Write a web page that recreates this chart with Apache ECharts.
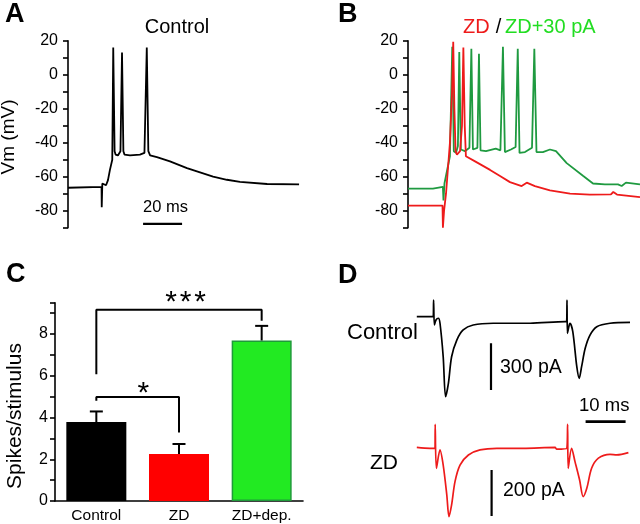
<!DOCTYPE html>
<html><head><meta charset="utf-8">
<script src="https://cdn.jsdelivr.net/npm/echarts@6/dist/echarts.min.js"></script>
<style>html,body{margin:0;padding:0;background:#fff}#c{width:640px;height:524px}</style>
</head><body><div id="c"></div>
<script>
// ---- Panel A: Control membrane potential (time ms, Vm mV)
const traceA_t = [0, 17.2, 17.3, 17.6, 18.5, 19.5, 20.5, 21.5, 22.7, 23.2, 23.9, 24.4, 25.6, 26.9, 27.7, 28.4, 29.0, 31.8, 36.9, 39.2, 40.4, 41.2, 42.1, 45.6, 52.3, 61.0, 67.7, 74.4, 81.5, 88.2, 102.1, 118.5];
const traceA_v = [-66.5, -66, -78, -64, -64.5, -65, -62, -56, -50, 16, -45, -47, -47.5, -45, 13, -45, -47, -47.5, -47, -46, 16, -45, -47.5, -48.5, -51, -55, -57.5, -60, -61.8, -63, -64.3, -64.5];
// ---- Panel B: ZD (red) and ZD+30 pA (green)
const traceBred_t = [0, 17.7, 17.9, 18.5, 19.5, 21.5, 22.6, 23.2, 23.8, 24.4, 25.1, 26.7, 27.7, 28.4, 29.1, 29.7, 34.4, 42.1, 47.2, 52.3, 58.3, 60.9, 65.1, 72.8, 83.1, 93.3, 104.1, 105.3, 107.2, 119];
const traceBred_v = [-77, -77, -90, -80, -70, -40, -10, 19.4, -20, -45, -47, -45, -30, 16, -30, -48, -51, -56, -59.6, -63.2, -65.5, -63.5, -65.5, -68, -70, -70.5, -70.4, -69, -70.5, -72];
const traceBgreen_t = [0, 12.8, 13.3, 17.9, 18.2, 18.7, 19.5, 21.5, 22.7, 23.5, 24.6, 25.6, 26.3, 27.1, 29.2, 31.5, 32.5, 33.3, 35.6, 36.4, 37.2, 40, 45, 47.4, 48.7, 49.7, 52.8, 55.2, 56.3, 57.2, 60, 63.6, 64.8, 65.9, 69.2, 72.8, 75.9, 81.4, 89.9, 94.9, 101, 107.7, 109.6, 111.8, 119];
const traceBgreen_v = [-67, -67, -66, -66, -74, -64, -64, -48, 16.5, -45, -46, -42, 13.3, -44, -45, -43, 15.3, -44, -43, 12.3, -44.5, -45, -43.5, -44.5, 16.5, -45.5, -44, -42.5, 15.3, -46, -45.5, -43, 15.3, -45.5, -45.5, -44, -45, -52, -59.6, -64, -64.5, -64.5, -65.5, -63.5, -64.5];
const vmTicks = [-80, -60, -40, -20, 0, 20];
// ---- Panel C: spikes per stimulus
const categoriesC = ['Control', 'ZD', 'ZD+dep.'];
const meansC = [3.78, 2.25, 7.69];
const errorsC = [0.51, 0.48, 0.70];
const bracketAll = [['Control', 6.07], ['Control', 9.16], ['ZD+dep.', 9.16], ['ZD+dep.', 8.63]];
const bracketZD = [['Control', 4.8], ['Control', 4.98], ['ZD', 4.98], ['ZD', 3.28]];
// ---- Panel D: synaptic currents (time ms, current pA)
const traceDctl_t = [0.2, 3.9, 4.3, 4.4, 4.6, 5.0, 5.6, 6.0, 6.8, 7.4, 8.1, 8.9, 10.2, 11.8, 14.3, 19.3, 25.2, 28.5, 37.3, 37.65, 37.75, 37.85, 38.3, 38.5, 39.2, 40.2, 40.8, 41.4, 42.3, 43.5, 45.2, 48.5, 53.5];
const traceDctl_v = [0, 0, 0, 107, -53, -21, -10, -42, -257, -514, -428, -257, -150, -85, -53, -42, -42, -42, -32, -32, 107, -107, -53, -42, -96, -321, -396, -321, -203, -118, -64, -42, -36];
const traceDzd_t = [0.2, 3.5, 4.75, 4.8, 5.1, 6.0, 6.8, 7.7, 8.25, 8.9, 9.75, 11.0, 13.1, 16.0, 20.2, 26.8, 34.75, 35.2, 37.7, 37.9, 38.05, 38.9, 39.75, 40.9, 41.8, 42.7, 43.9, 45.6, 48.5, 50.2, 53.1];
const traceDzd_v = [4, 0, 0, 104, -87, -7, -73, -203, -297, -246, -145, -73, -29, -7, 0, 0, 4, -4, 0, 104, -87, 0, -58, -138, -210, -174, -87, -43, -26, -29, -19];
// scale bars (data units)
const barA_ms = [[38.5, -87.8], [58.5, -87.8]];
const barD_pA1 = [[18.75, -171], [18.75, -471]];
const barD_ms = [[42.4, -674], [52.4, -674]];
const barD_pA2 = [[18.9, -94], [18.9, -294]];

const zip = (t, v) => t.map((x, i) => [x, v[i]]);
const FF = '"Liberation Sans", Arial, sans-serif';
const RED = '#ee1b1b', GREEN = '#1f9a40';

const chart = echarts.init(document.getElementById('c'), null, {renderer: 'canvas'});

function vmAxis(gi) {
  return {
    type: 'value', gridIndex: gi, min: -90, max: 20, interval: 10,
    axisLine: {show: true, lineStyle: {color: '#000', width: 1.6}},
    axisTick: {show: true, inside: false, length: 5, lineStyle: {color: '#000', width: 1.6}},
    axisLabel: {margin: 10, fontSize: 16, fontFamily: FF, color: '#000',
      formatter: v => (vmTicks.indexOf(v) >= 0 ? String(v) : '')},
    splitLine: {show: false}
  };
}
function hiddenX(gi, max) {
  return {type: 'value', gridIndex: gi, min: 0, max: max, show: false};
}
function hiddenY(gi, min, max) {
  return {type: 'value', gridIndex: gi, min: min, max: max, show: false};
}
function lineS(xi, data, color, w, smooth) {
  return {type: 'line', xAxisIndex: xi, yAxisIndex: xi, data: data, showSymbol: false, symbol: 'none',
    clip: false, silent: true, animation: false, smooth: smooth || false,
    lineStyle: {color: color, width: w || 1.8}, z: 5};
}

function txt(text, x, y, size, opts) {
  opts = opts || {};
  return {type: 'text', x: x, y: y, rotation: opts.rot || 0, silent: true, z: 10,
    style: {text: text, fill: opts.color || '#000', font: (opts.bold ? 'bold ' : '') + size + 'px ' + FF,
      align: opts.align || 'left', verticalAlign: 'middle'}};
}

const option = {
  animation: false,
  backgroundColor: '#fff',
  grid: [
    {left: 68, top: 40.7, width: 234, height: 187},
    {left: 408, top: 40.7, width: 232, height: 187},
    {left: 55, top: 302.7, width: 248, height: 199.6},
    {left: 416, top: 293.35, width: 216, height: 132.35},
    {left: 416, top: 420.7, width: 216, height: 101.2}
  ],
  xAxis: [
    hiddenX(0, 120),
    hiddenX(1, 119),
    {type: 'category', gridIndex: 2, data: categoriesC,
      axisLine: {show: true, lineStyle: {color: '#000', width: 1.6}},
      axisTick: {show: false},
      axisLabel: {margin: 7, fontSize: 15.5, fontFamily: FF, color: '#000'}},
    hiddenX(3, 54),
    hiddenX(4, 54)
  ],
  yAxis: [
    vmAxis(0),
    vmAxis(1),
    {type: 'value', gridIndex: 2, min: 0, max: 9.5, interval: 1,
      axisLine: {show: true, lineStyle: {color: '#000', width: 1.6}},
      axisTick: {show: true, length: 5, lineStyle: {color: '#000', width: 1.6}},
      axisLabel: {margin: 7, fontSize: 16, fontFamily: FF, color: '#000',
        formatter: v => (v % 2 === 0 ? String(v) : '')},
      splitLine: {show: false}},
    hiddenY(3, -700, 150),
    hiddenY(4, -320, 120)
  ],
  series: [
    lineS(0, zip(traceA_t, traceA_v), '#000'),
    lineS(0, barA_ms, '#000', 2.2),
    lineS(1, zip(traceBgreen_t, traceBgreen_v), GREEN),
    lineS(1, zip(traceBred_t, traceBred_v), RED),
    {type: 'bar', xAxisIndex: 2, yAxisIndex: 2, barWidth: 60, silent: true, z: 2,
      data: [
        {value: meansC[0], itemStyle: {color: '#000'}},
        {value: meansC[1], itemStyle: {color: '#ff0000'}},
        {value: meansC[2], itemStyle: {color: '#22ea22', borderColor: '#1f9a3a', borderWidth: 1.5}}
      ]},
    {type: 'custom', xAxisIndex: 2, yAxisIndex: 2, silent: true, z: 4,
      data: meansC.map((m, i) => [i, m, m + errorsC[i]]),
      renderItem: function (params, api) {
        const base = api.coord([api.value(0), api.value(1)]);
        const top = api.coord([api.value(0), api.value(2)]);
        const st = {stroke: '#000', lineWidth: 2};
        return {type: 'group', children: [
          {type: 'line', shape: {x1: base[0], y1: base[1], x2: top[0], y2: top[1]}, style: st},
          {type: 'line', shape: {x1: top[0] - 6.5, y1: top[1], x2: top[0] + 6.5, y2: top[1]}, style: st}
        ]};
      }},
    {type: 'line', xAxisIndex: 2, yAxisIndex: 2, data: bracketAll, showSymbol: false, symbol: 'none',
      silent: true, clip: false, lineStyle: {color: '#000', width: 2}, z: 5},
    {type: 'line', xAxisIndex: 2, yAxisIndex: 2, data: bracketZD, showSymbol: false, symbol: 'none',
      silent: true, clip: false, lineStyle: {color: '#000', width: 2}, z: 5},
    lineS(3, zip(traceDctl_t, traceDctl_v), '#000', 1.7, 0.3),
    lineS(3, barD_pA1, '#000', 2.2),
    lineS(3, barD_ms, '#000', 2.6),
    lineS(4, zip(traceDzd_t, traceDzd_v), RED, 1.7, 0.3),
    lineS(4, barD_pA2, '#000', 2.2)
  ],
  graphic: [
    txt('A', 5, 14.5, 27, {bold: true}),
    txt('B', 338, 14.5, 27, {bold: true}),
    txt('C', 6, 275, 27, {bold: true}),
    txt('D', 338, 276, 27, {bold: true}),
    txt('Control', 177, 27.5, 20, {align: 'center'}),
    txt('ZD', 463, 27.5, 20, {color: RED}),
    txt('/', 498.5, 27.5, 20, {align: 'center'}),
    txt('ZD+30 pA', 505, 27.5, 20, {color: '#22dd22'}),
    txt('Vm (mV)', 9, 137, 19, {align: 'center', rot: Math.PI / 2}),
    txt('20 ms', 165.5, 207.5, 16.5, {align: 'center'}),
    txt('Spikes/stimulus', 15, 416, 21, {align: 'center', rot: Math.PI / 2}),
    txt('*', 171, 303, 30, {align: 'center'}),
    txt('*', 185.5, 303, 30, {align: 'center'}),
    txt('*', 200, 303, 30, {align: 'center'}),
    txt('*', 143.3, 394, 30, {align: 'center'}),
    txt('Control', 347, 333.3, 22),
    txt('ZD', 370, 463.3, 21),
    txt('300 pA', 500, 367.5, 19.5),
    txt('10 ms', 579, 406, 18.5),
    txt('200 pA', 503, 491, 19.5)
  ]
};
chart.setOption(option);
</script></body></html>
